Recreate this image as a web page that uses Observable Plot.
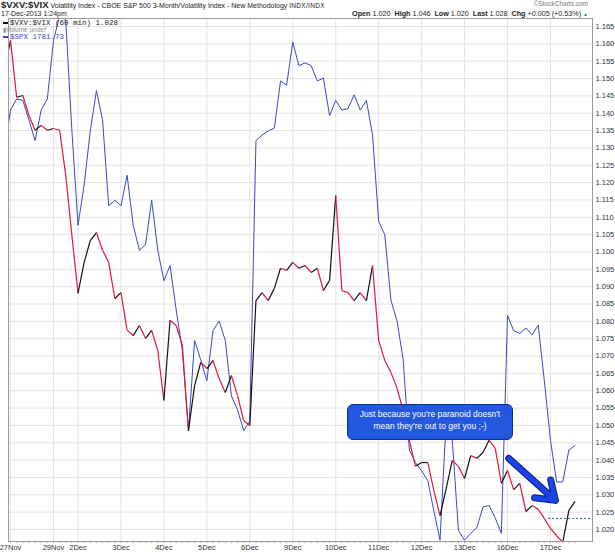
<!DOCTYPE html>
<html><head><meta charset="utf-8">
<script src="https://cdn.jsdelivr.net/npm/d3@7"></script>
<script src="https://cdn.jsdelivr.net/npm/@observablehq/plot@0.6"></script>
<style>
body{margin:0;background:#fff;}
#wrap{position:relative;width:615px;height:557px;font-family:"Liberation Sans",Arial,sans-serif;overflow:hidden;background:#fff}
#wrap svg{position:absolute;left:0;top:0}
.t{position:absolute;white-space:nowrap;color:#222;font-size:8px;line-height:9px}
.mono{font-family:"Liberation Mono","DejaVu Sans Mono",monospace}
#note{position:absolute;background:#2457e0;border:1.5px solid #0d2f9c;border-radius:6px;color:#fff;font-size:8.5px;text-align:center;line-height:12px;padding:3px 4px;box-sizing:border-box}
</style></head><body><div id="wrap"></div>
<script>
// ---- data (60-minute bars) ----
const dayLabels = ["27Nov","29Nov","2Dec","3Dec","4Dec","5Dec","6Dec","9Dec","10Dec","11Dec","12Dec","13Dec","16Dec","17Dec"];
const dayBars   = [7,4,7,7,7,7,7,7,7,7,7,7,7,5];
// first value is the last bar of the previous session (26 Nov)
const ratio = [1.1524,
  1.1610,1.1446,1.1451,1.1394,1.1351,1.1365,1.1351,
  1.1356,1.1351,1.1221,1.1048,
  1.0881,1.0970,1.1033,1.1056,1.1005,1.0970,1.0866,
  1.0883,1.0774,1.0759,1.0788,1.0751,1.0774,1.0716,
  1.0572,1.0803,1.0788,1.0731,1.0485,1.0615,1.0682,
  1.0664,1.0687,1.0635,1.0595,1.0644,1.0586,1.0514,
  1.0500,1.0860,1.0883,1.0860,1.0895,1.0953,1.0947,
  1.0970,1.0953,1.0961,1.0941,1.0953,1.0889,1.0918,
  1.1163,1.0889,1.0883,1.0860,1.0883,1.0860,1.0961,
  1.0745,1.0687,1.0653,1.0607,1.0543,1.0457,1.0382,
  1.0393,1.0393,1.0312,1.0240,1.0318,1.0399,1.0382,
  1.0347,1.0413,1.0405,1.0422,1.0457,1.0434,1.0333,
  1.0370,1.0315,1.0333,1.0252,1.0269,1.0258,1.0232,
  1.0203,1.0182,1.0163,1.0255,1.0281];
const spx = [1803.0,
  1805.9,1806.7,1806.6,1805.2,1803.7,1805.9,1806.7,
  1810.9,1812.7,1812.4,1804.4,
  1797.6,1800.5,1804.4,1807.3,1805.2,1799.0,1799.4,
  1799.0,1801.2,1797.6,1795.8,1796.2,1799.4,1795.8,
  1793.6,1794.7,1791.5,1788.6,1782.8,1789.3,1787.9,
  1786.4,1790.0,1790.7,1789.3,1785.3,1784.3,1782.8,
  1783.5,1803.7,1804.1,1804.4,1804.6,1808.0,1807.7,
  1810.8,1809.1,1809.3,1809.1,1808.0,1808.2,1805.5,
  1806.6,1805.9,1806.0,1807.0,1805.9,1806.6,1804.1,
  1797.9,1796.9,1792.2,1790.7,1787.9,1781.4,1780.5,
  1779.9,1779.2,1777.0,1774.9,1783.5,1782.1,1775.6,
  1774.9,1775.4,1775.8,1777.3,1777.4,1776.5,1775.4,
  1791.1,1790.0,1789.8,1790.2,1789.7,1790.4,1786.4,
  1782.1,1779.1,1779.1,1781.4,1781.73];
const yTickValues = [1.020,1.025,1.030,1.035,1.040,1.045,1.050,1.055,1.060,1.065,1.070,1.075,1.080,1.085,1.090,1.095,1.100,1.105,1.110,1.115,1.120,1.125,1.130,1.135,1.140,1.145,1.150,1.155,1.160,1.165];
// overlay scale of $SPX onto the price axis (hidden second scale)
const spxRef = 1781.73, spxRefRatio = 1.04422, spxPerUnit = 250;
// annotation arrow (in chart units: bar index, value)
const arrowFrom = {i: 81.2, v: 1.0405};
const arrowTo   = {i: 88.8, v: 1.0284};

// ---- build ----
const dayStarts = [];
let acc = 0;
dayBars.forEach(n => { dayStarts.push(acc); acc += n; });
const labelByIdx = new Map(dayStarts.map((d, k) => [d, dayLabels[k]]));
const allIdx = d3.range(0, acc);
const rPts = ratio.map((v, k) => ({i: k - 1, v}));
const segs = d3.pairs(rPts).map(([a, b]) => ({x1: a.i, y1: a.v, x2: b.i, y2: b.v, c: b.v >= a.v ? "#111" : "#e3173e"}));
const sPts = spx.map((s, k) => ({i: k - 1, v: spxRefRatio + (s - spxRef) / spxPerUnit}));
const prevClose = ratio[dayStarts[dayStarts.length - 1]]; // last bar of 16 Dec
const lastStart = dayStarts[dayStarts.length - 1];

const chart = Plot.plot({
  width: 615, height: 557,
  marginTop: 18, marginBottom: 16, marginLeft: 8, marginRight: 23,
  style: {fontFamily: "Liberation Sans, Arial, sans-serif", background: "transparent"},
  x: {domain: [-0.33, 94.85], axis: null},
  y: {domain: [1.01654, 1.1673], axis: null},
  color: {type: "identity"},
  marks: [
    Plot.ruleY(yTickValues, {stroke: "#e4e4e4"}),
    Plot.ruleX(dayStarts, {stroke: "#e4e4e4"}),
    Plot.axisX(allIdx, {anchor: "bottom", tickSize: 2, tickFormat: () => "", stroke: "#aaa"}),
    Plot.axisX(dayStarts, {anchor: "bottom", tickSize: 0, tickPadding: 3, tickFormat: d => labelByIdx.get(d), fontSize: 7.5, fill: "#333"}),
    Plot.axisY(yTickValues, {anchor: "right", tickSize: 0, tickPadding: 3, tickFormat: d => d.toFixed(3), fontSize: 7.5, fill: "#333"}),
    Plot.ruleY([prevClose], {x1: lastStart - 0.3, x2: 94.85, stroke: "#3355dd", strokeDasharray: "2,2"}),
    Plot.line(sPts, {x: "i", y: "v", stroke: "#3a48c0", strokeWidth: 1, clip: true}),
    Plot.link(segs, {x1: "x1", y1: "y1", x2: "x2", y2: "y2", stroke: "c", strokeWidth: 1.2, clip: true}),
    Plot.arrow([{a: arrowFrom, b: arrowTo}], {x1: d => d.a.i, y1: d => d.a.v, x2: d => d.b.i, y2: d => d.b.v, stroke: "#0a1f7a", strokeWidth: 7, headLength: 10, headAngle: 70}),
    Plot.arrow([{a: arrowFrom, b: arrowTo}], {x1: d => d.a.i, y1: d => d.a.v, x2: d => d.b.i, y2: d => d.b.v, stroke: "#1a44e8", strokeWidth: 5, headLength: 9, headAngle: 70}),
    Plot.frame({stroke: "#9a9a9a"})
  ]
});
const wrap = document.getElementById("wrap");
wrap.appendChild(chart);

function addText(html, css, cls) {
  const d = document.createElement("div");
  d.className = "t " + (cls || "");
  d.innerHTML = html;
  Object.assign(d.style, css);
  wrap.appendChild(d);
  return d;
}
addText('<b style="font-size:9.5px">$VXV:$VIX</b> <span style="font-size:7px">Volatility Index - CBOE S&amp;P 500 3-Month/Volatility Index - New Methodology</span> <span style="font-size:6.5px;letter-spacing:0.3px">INDX/INDX</span>', {left: "1px", top: "0px", lineHeight: "10px", fontSize: "7px"});
addText('17-Dec-2013 1:24pm', {left: "1px", top: "10px", fontSize: "7px", lineHeight: "8px"});
addText('&copy;StockCharts.com', {right: "27px", top: "0px", fontSize: "6.5px", lineHeight: "8px", color: "#777"});
const lab = s => '<b style="margin-left:4px">' + s + '</b>';
addText(lab('Open') + ' 1.020' + lab('High') + ' 1.046' + lab('Low') + ' 1.020' + lab('Last') + ' 1.028' + lab('Chg') + ' +0.005 (+0.53%) <span style="color:#2a2;font-size:5px">&#9650;</span>', {right: "27px", top: "9px", fontSize: "7.2px", lineHeight: "9px"});
// legend
addText('<span style="display:inline-block;width:5px;border-top:2px solid #111;vertical-align:middle;margin-right:2px"></span>$VXV:$VIX (60 min) 1.028', {left: "3px", top: "19px", fontSize: "7.5px", lineHeight: "8px"}, "mono");
addText('<span style="font-size:6px;color:#888">&#9646;</span>Volume undef', {left: "3px", top: "26px", fontSize: "6.5px", lineHeight: "7px", color: "#888"});
addText('<span style="display:inline-block;width:5px;border-top:2px solid #3a48c0;vertical-align:middle;margin-right:2px"></span>$SPX 1781.73', {left: "3px", top: "33px", fontSize: "7.5px", lineHeight: "8px", color: "#3a48c0"}, "mono");
const note = document.createElement("div");
note.id = "note";
note.innerHTML = "Just because you're paranoid doesn't<br>mean they're out to get you ;-)";
Object.assign(note.style, {left: "347px", top: "404px", width: "166px", height: "36px"});
wrap.appendChild(note);
</script></body></html>
